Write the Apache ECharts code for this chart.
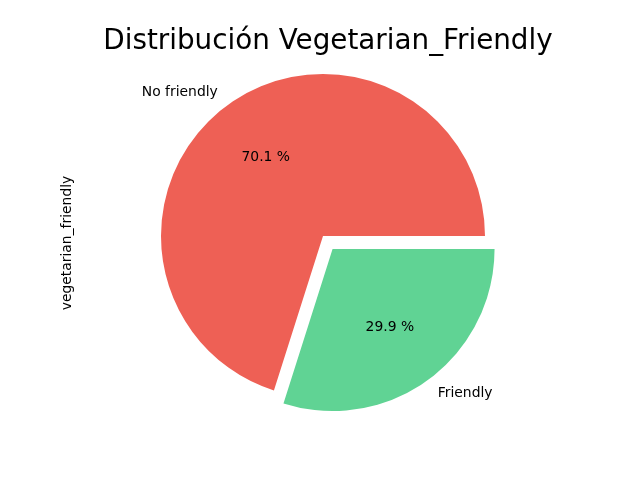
<!DOCTYPE html>
<html>
<head>
<meta charset="utf-8">
<script src="https://cdn.jsdelivr.net/npm/echarts@6/dist/echarts.min.js"></script>
<style>html,body{margin:0;padding:0;background:#fff}#c{width:640px;height:480px}</style>
</head>
<body>
<div id="c"></div>
<script>
const categories = ['No friendly', 'Friendly'];
const percentages = [70.1, 29.9];
const colors = ['#EE6055', '#60D394'];
const explodedIndex = 1;
const titleText = 'Distribución Vegetarian_Friendly';
const yLabel = 'vegetarian_friendly';

const FONT = 'DejaVu Sans';
const R = 162;
const CENTER = [323, 236];

const data = categories.map((c, i) => ({
  name: c,
  value: percentages[i],
  selected: i === explodedIndex,
  itemStyle: { color: colors[i] }
}));
const dataPct = categories.map((c, i) => ({
  name: c,
  value: percentages[i],
  selected: i === explodedIndex
}));

const chart = echarts.init(document.getElementById('c'), null, { renderer: 'canvas' });
chart.setOption({
  animation: false,
  backgroundColor: '#ffffff',
  title: {
    text: titleText,
    left: 323, top: 23, textAlign: 'center',
    textStyle: { fontFamily: FONT, fontSize: 27.8, fontWeight: 'normal', color: '#000' }
  },
  graphic: [{
    type: 'text', x: 67, y: 243, rotation: Math.PI / 2,
    style: { text: yLabel, fontFamily: FONT, fontSize: 13.9, fill: '#000', textAlign: 'center', textVerticalAlign: 'middle' }
  }],
  series: [
    {
      type: 'pie', center: CENTER, radius: [0, R],
      startAngle: 0, clockwise: false,
      selectedMode: 'single', selectedOffset: 16.2,
      avoidLabelOverlap: false, silent: true,
      emphasis: { disabled: true },
      data: data,
      label: {
        show: true, position: 'outside', alignTo: 'none',
        distanceToLabelLine: 0,
        fontFamily: FONT, fontSize: 13.9, color: '#000',
        formatter: p => p.name
      },
      labelLine: { show: false, length: 16.2, length2: 0 }
    },
    {
      type: 'pie', center: CENTER, radius: [26, R],
      startAngle: 0, clockwise: false,
      selectedMode: 'single', selectedOffset: 16.2,
      avoidLabelOverlap: false, silent: true,
      emphasis: { disabled: true },
      itemStyle: { color: 'rgba(0,0,0,0)' },
      data: dataPct,
      label: {
        show: true, position: 'inside',
        fontFamily: FONT, fontSize: 13.9, color: '#000',
        formatter: p => p.value.toFixed(1) + ' %'
      },
      labelLine: { show: false }
    }
  ]
});
</script>
</body>
</html>
